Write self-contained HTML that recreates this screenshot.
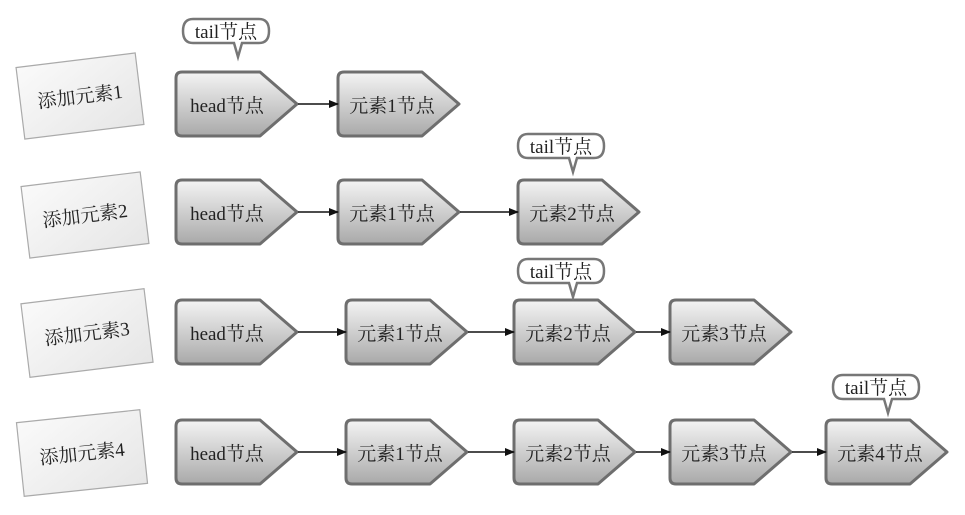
<!DOCTYPE html>
<html><head><meta charset="utf-8"><style>
html,body{margin:0;padding:0;background:#fff;}
text{font-family:"Liberation Serif","Noto Serif CJK SC",serif;font-size:19px;fill:#222;}
</style></head><body>
<svg width="965" height="510" viewBox="0 0 965 510" xmlns="http://www.w3.org/2000/svg">
<defs>
<linearGradient id="g" x1="0" y1="0" x2="0" y2="1">
<stop offset="0" stop-color="#f4f4f4"/><stop offset="1" stop-color="#a9a9a9"/></linearGradient>
<linearGradient id="lg" x1="0" y1="0" x2="1" y2="1">
<stop offset="0" stop-color="#fafafa"/><stop offset="1" stop-color="#e6e6e6"/></linearGradient>
<path id="n" d="M6,0 L84,0 L121,32 L84,64 L6,64 Q0,64 0,58 L0,6 Q0,0 6,0 Z" fill="url(#g)" stroke="#6e6e6e" stroke-width="3" stroke-linejoin="round"/>
<marker id="a" markerWidth="10" markerHeight="10" refX="9" refY="5" orient="auto" markerUnits="userSpaceOnUse"><path d="M0,1 L10,5 L0,9 Z" fill="#111"/></marker>
<g id="t"><path d="M10,0 L76,0 Q86,0 86,12 Q86,24 76,24 L59,24 L55,38 L51,24 L10,24 Q0,24 0,12 Q0,0 10,0 Z" fill="#fff" stroke="#777" stroke-width="2.5"/></g>
</defs>

<!-- left labels -->
<g transform="translate(80,96) rotate(-7)"><rect x="-60" y="-36" width="120" height="72" fill="url(#lg)" stroke="#aaa" stroke-width="1.2"/><text x="0" y="7" text-anchor="middle">添加元素1</text></g>
<g transform="translate(85,215) rotate(-7)"><rect x="-60" y="-36" width="120" height="72" fill="url(#lg)" stroke="#aaa" stroke-width="1.2"/><text x="0" y="7" text-anchor="middle">添加元素2</text></g>
<g transform="translate(87,333) rotate(-7)"><rect x="-62" y="-37" width="124" height="74" fill="url(#lg)" stroke="#aaa" stroke-width="1.2"/><text x="0" y="7" text-anchor="middle">添加元素3</text></g>
<g transform="translate(82,453) rotate(-6)"><rect x="-62" y="-37" width="124" height="74" fill="url(#lg)" stroke="#aaa" stroke-width="1.2"/><text x="0" y="7" text-anchor="middle">添加元素4</text></g>

<!-- row1 -->
<use href="#n" x="176" y="72"/><text x="227" y="112" text-anchor="middle">head节点</text>
<use href="#n" x="338" y="72"/><text x="392" y="112" text-anchor="middle">元素1节点</text>
<line x1="298" y1="104" x2="338" y2="104" stroke="#111" stroke-width="1.5" marker-end="url(#a)"/>
<use href="#t" x="183" y="19"/><text x="226" y="38" text-anchor="middle">tail节点</text>

<!-- row2 -->
<use href="#n" x="176" y="180"/><text x="227" y="220" text-anchor="middle">head节点</text>
<use href="#n" x="338" y="180"/><text x="392" y="220" text-anchor="middle">元素1节点</text>
<use href="#n" x="518" y="180"/><text x="572" y="220" text-anchor="middle">元素2节点</text>
<line x1="298" y1="212" x2="338" y2="212" stroke="#111" stroke-width="1.5" marker-end="url(#a)"/>
<line x1="460" y1="212" x2="518" y2="212" stroke="#111" stroke-width="1.5" marker-end="url(#a)"/>
<use href="#t" x="518" y="134"/><text x="561" y="153" text-anchor="middle">tail节点</text>

<!-- row3 -->
<use href="#n" x="176" y="300"/><text x="227" y="340" text-anchor="middle">head节点</text>
<use href="#n" x="346" y="300"/><text x="400" y="340" text-anchor="middle">元素1节点</text>
<use href="#n" x="514" y="300"/><text x="568" y="340" text-anchor="middle">元素2节点</text>
<use href="#n" x="670" y="300"/><text x="724" y="340" text-anchor="middle">元素3节点</text>
<line x1="298" y1="332" x2="346" y2="332" stroke="#111" stroke-width="1.5" marker-end="url(#a)"/>
<line x1="468" y1="332" x2="514" y2="332" stroke="#111" stroke-width="1.5" marker-end="url(#a)"/>
<line x1="636" y1="332" x2="670" y2="332" stroke="#111" stroke-width="1.5" marker-end="url(#a)"/>
<use href="#t" x="518" y="259"/><text x="561" y="278" text-anchor="middle">tail节点</text>

<!-- row4 -->
<use href="#n" x="176" y="420"/><text x="227" y="460" text-anchor="middle">head节点</text>
<use href="#n" x="346" y="420"/><text x="400" y="460" text-anchor="middle">元素1节点</text>
<use href="#n" x="514" y="420"/><text x="568" y="460" text-anchor="middle">元素2节点</text>
<use href="#n" x="670" y="420"/><text x="724" y="460" text-anchor="middle">元素3节点</text>
<use href="#n" x="826" y="420"/><text x="880" y="460" text-anchor="middle">元素4节点</text>
<line x1="298" y1="452" x2="346" y2="452" stroke="#111" stroke-width="1.5" marker-end="url(#a)"/>
<line x1="468" y1="452" x2="514" y2="452" stroke="#111" stroke-width="1.5" marker-end="url(#a)"/>
<line x1="636" y1="452" x2="670" y2="452" stroke="#111" stroke-width="1.5" marker-end="url(#a)"/>
<line x1="792" y1="452" x2="826" y2="452" stroke="#111" stroke-width="1.5" marker-end="url(#a)"/>
<use href="#t" x="833" y="375"/><text x="876" y="394" text-anchor="middle">tail节点</text>
</svg>
</body></html>
